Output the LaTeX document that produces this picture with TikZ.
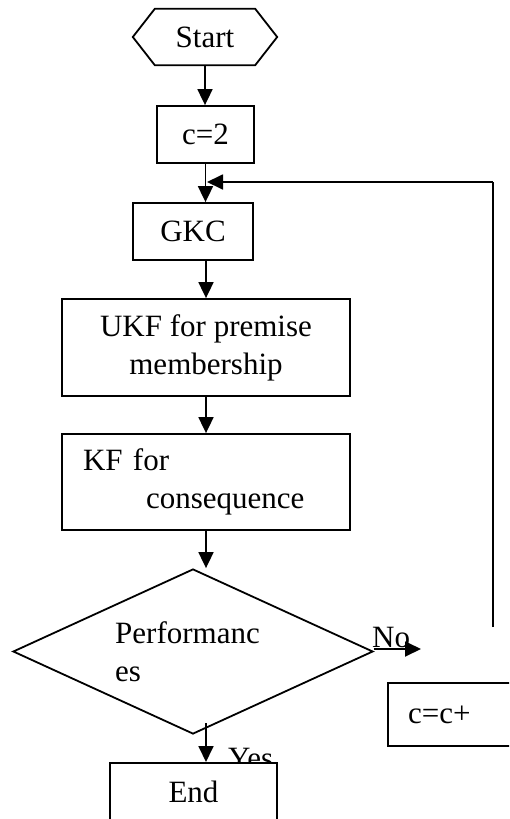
\documentclass[tikz,border=0pt]{standalone}
\usepackage{fontspec}
\setmainfont{Liberation Serif}
\usetikzlibrary{arrows.meta,shapes.geometric,calc}
\tikzset{
  every node/.style={font=\fontsize{31}{38}\selectfont},
  box/.style={draw, line width=1.8pt, rectangle, inner sep=0pt, fill=white},
  decision/.style={draw, line width=1.8pt, diamond, inner sep=0pt, minimum width=360pt, minimum height=165pt},
  conn/.style={line width=1.8pt},
  arr/.style={line width=1.8pt, -{Triangle[length=16pt,width=15pt]}}
}
\begin{document}
\begin{tikzpicture}[x=1pt,y=-1pt]
\clip (0,0) rectangle (509,819);
\fill[white] (0,0) rectangle (509,819);
% start hexagon
\node[inner sep=0pt, minimum width=144pt, minimum height=56pt] (start) at (205,37) {Start};
\draw[conn, line join=miter] (start.west) -- ([xshift=22pt]start.north west) -- ([xshift=-22pt]start.north east) -- (start.east) -- ([xshift=-22pt]start.south east) -- ([xshift=22pt]start.south west) -- cycle;
% boxes
\node[box, minimum width=97pt, minimum height=57pt] (c2) at (205.5,134.5) {c=2};
\node[box, minimum width=120pt, minimum height=57pt] (gkc) at (193,231.5) {GKC};
\node[box, minimum width=288pt, minimum height=97pt, align=center] (ukf) at (206,347.5) {UKF for premise\\membership};
\node[box, minimum width=288pt, minimum height=96pt, text width=246pt, inner xsep=21pt, align=left] (kf) at (206,482) {KF for\\\hspace*{63pt}consequence};
\node[decision] (dec) at (193,651.5) {};
\node[anchor=west, align=left, inner sep=0pt] (perf) at (115,652) {Performanc\\es};
\node[box, minimum width=140pt, minimum height=63pt, text width=120pt, inner xsep=20pt, align=left] (cc) at (468,714.5) {c=c+};
% arrows
\draw[arr] (start.south) -- (start.south |- c2.north);
\coordinate (merge) at (206,182);
\draw[arr] (c2.south) -- (c2.south |- gkc.north);
\coordinate (fbtop) at (493,182);
\coordinate (fbbot) at (493,627);
\draw[conn] (fbbot) -- (fbtop);
\draw[arr] (fbtop) -- ([xshift=1pt]merge);
\draw[arr] (gkc.south -| ukf.north) -- (ukf.north);
\draw[arr] (ukf.south) -- (kf.north);
\draw[arr] (kf.south) -- (kf.south |- dec.north);
\coordinate (noend) at (421,649);
\draw[arr] (dec.east |- noend) -- (noend);
\node[anchor=base west, inner sep=0pt] (no) at (372,647) {No};
\coordinate (ystart) at (206,723);
\node[anchor=base west, inner sep=0pt] (yes) at (228,768) {Yes};
\node[box, anchor=north, minimum width=167pt, text height=21.5pt, text depth=6pt, inner ysep=18.5pt] (endn) at (193.5,762) {End};
\draw[arr] (ystart) -- (ystart |- endn.north);
\end{tikzpicture}
\end{document}
